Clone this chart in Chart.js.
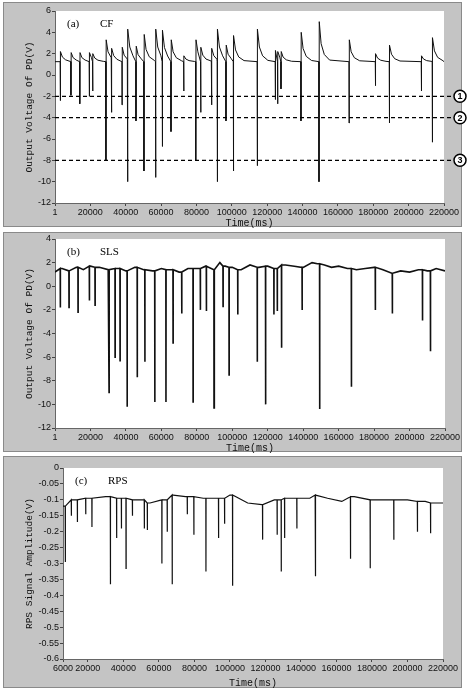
<!DOCTYPE html>
<html><head><meta charset="utf-8">
<script src="https://cdn.jsdelivr.net/npm/chart.js@4/dist/chart.umd.min.js"></script>
<style>
body{margin:0;background:#fff;width:474px;height:689px;overflow:hidden;position:relative}
.p{position:absolute;left:0;width:474px}
</style></head><body>
<div class="p" style="top:0;height:229px"><canvas id="ca"></canvas></div>
<div class="p" style="top:229px;height:225px"><canvas id="cb"></canvas></div>
<div class="p" style="top:454px;height:235px"><canvas id="cc"></canvas></div>
<script>
// ---------- DATA ----------
const xTicksAB = [1,20000,40000,60000,80000,100000,120000,140000,160000,180000,200000,220000];
const xTicksC = [6000,20000,40000,60000,80000,100000,120000,140000,160000,180000,200000,220000];
const thresholdLevels = [-2,-4,-8];
const thresholdLabels = ['1','2','3'];

// Panel (a) CF: event times, minimum, overshoot peak
const cfTimes = [3000,9000,14000,19400,21300,28800,32000,37900,41100,45800,50300,56900,60700,65600,72800,79600,82400,88600,91800,96700,100900,114400,124600,125900,127800,139100,149300,166300,181200,189100,207200,213400];
const cfMins  = [-2.4,-1.9,-2.7,-2.0,-1.5,-8.0,-3.5,-2.8,-10.0,-4.3,-9.0,-9.6,-6.7,-5.3,-1.5,-8.0,-3.5,-2.8,-10.0,-4.3,-9.0,-8.5,-2.3,-2.7,-1.3,-4.3,-10.0,-4.5,-1.0,-4.5,-1.5,-6.3];
const cfPeaks = [2.2,2.1,2.1,2.1,2.0,3.3,2.5,2.6,4.3,2.7,3.8,4.3,4.2,3.3,1.8,3.3,2.6,2.5,4.3,2.8,3.7,4.3,2.3,2.2,2.2,4.0,5.0,3.3,2.0,2.8,1.8,3.5];
const cfBase = 1.25;

// Panel (b) SLS: baseline knots and dips
const slsBaseT = [1,4000,8000,12000,16000,20000,25000,30000,35000,40000,45000,50000,55000,60000,65000,70000,75000,80000,85000,90000,93000,96000,100000,105000,110000,115000,120000,125000,130000,135000,140000,145000,148000,152000,156000,160000,165000,170000,175000,180000,185000,190000,195000,200000,205000,210000,215000,220000];
const slsBaseV = [1.2,1.5,1.3,1.6,1.4,1.7,1.6,1.4,1.5,1.3,1.6,1.4,1.3,1.5,1.4,1.2,1.5,1.5,1.7,1.4,2.0,1.7,1.6,1.4,1.8,1.6,1.7,1.5,1.8,1.7,1.6,2.0,1.9,1.8,1.6,1.7,1.5,1.4,1.5,1.6,1.4,1.1,1.3,1.2,1.4,1.3,1.5,1.3];
const slsTimes = [3000,7900,13000,19400,22600,30500,33900,36700,40700,46400,50700,56300,62600,66600,71500,77900,82000,85400,89700,94800,98200,103100,114100,118800,123500,125400,127800,139400,149300,167200,180700,190300,207300,211800];
const slsMins  = [-1.8,-1.8,-2.2,-1.2,-1.6,-9.0,-6.0,-6.3,-10.2,-7.7,-6.4,-9.8,-9.8,-4.8,-2.3,-9.8,-2.0,-2.1,-10.3,-1.7,-7.5,-2.4,-6.4,-10.0,-2.4,-2.1,-5.2,-2.0,-10.4,-8.5,-2.0,-2.3,-2.9,-5.5];

// Panel (c) RPS: baseline knots and dips
const rpsBaseT = [6000,12000,20000,30000,40000,50000,55000,62000,68000,75000,85000,95000,100000,110000,118000,125000,135000,145000,148000,155000,163000,170000,180000,190000,200000,210000,215000,220000];
const rpsBaseV = [-0.12,-0.1,-0.095,-0.09,-0.095,-0.1,-0.11,-0.1,-0.085,-0.09,-0.095,-0.095,-0.085,-0.11,-0.115,-0.1,-0.095,-0.095,-0.085,-0.095,-0.105,-0.09,-0.1,-0.1,-0.1,-0.105,-0.11,-0.11];
const rpsTimes = [7300,10700,14100,18800,22300,32700,36200,38900,41500,45100,51800,53500,61700,64700,67500,76000,79700,86500,93600,97000,101500,118400,126600,128900,130800,137700,148200,167900,179000,192300,205600,213000];
const rpsMins  = [-0.295,-0.15,-0.17,-0.145,-0.185,-0.365,-0.22,-0.19,-0.315,-0.15,-0.19,-0.195,-0.3,-0.2,-0.365,-0.145,-0.21,-0.325,-0.22,-0.175,-0.37,-0.225,-0.21,-0.325,-0.22,-0.19,-0.34,-0.285,-0.315,-0.225,-0.2,-0.205];

// ---------- BUILD SERIES ----------
function cfSeries(){
  const pts=[[1,cfBase]];
  for(let i=0;i<cfTimes.length;i++){
    const t=cfTimes[i], nx=i+1<cfTimes.length?cfTimes[i+1]:220001, d=cfPeaks[i]-cfBase;
    pts.push([t-80,cfBase],[t,cfMins[i]],[t+150,cfPeaks[i]]);
    [[1200,0.45],[3000,0.18],[6000,0.04]].forEach(([dt,f])=>{ if(t+dt<nx-100) pts.push([t+dt,cfBase+d*f]); });
  }
  pts.push([220000,cfBase]);
  return pts.map(p=>({x:p[0],y:p[1]}));
}
function nearest(ts,vs,t){let b=0;for(let i=0;i<ts.length;i++) if(Math.abs(ts[i]-t)<Math.abs(ts[b]-t)) b=i; return vs[b];}
function dipSeries(bt,bv,times,mins,w){
  const pts=bt.map((t,i)=>[t,bv[i]]);
  times.forEach((t,i)=>{const b=nearest(bt,bv,t); pts.push([t-w,b],[t,mins[i]],[t+w,b]);});
  pts.sort((a,b)=>a[0]-b[0]);
  return pts.map(p=>({x:p[0],y:p[1]}));
}

// ---------- CHART ----------
const tickFont={family:'Liberation Sans',size:9};
function panelBg(y0,y1){
  return {id:'bg',beforeDraw(c){const g=c.ctx,a=c.chartArea;g.save();
    g.fillStyle='#c4c4c4';g.fillRect(3,y0,459,y1-y0);
    g.strokeStyle='#8a8a8a';g.lineWidth=1;g.strokeRect(3.5,y0+0.5,458,y1-y0-1);
    g.fillStyle='#fff';g.fillRect(a.left,a.top,a.right-a.left,a.bottom-a.top);
    g.restore();}};
}
function label(txt1,txt2){
  return {id:'lbl',afterDraw(c){const g=c.ctx,a=c.chartArea;g.save();g.fillStyle='#000';
    g.font='11px "Liberation Serif"';g.textBaseline='middle';
    g.fillText(txt1,a.left+12,a.top+13);g.fillText(txt2,a.left+45,a.top+13);g.restore();}};
}
function make(id,data,opt){
  return new Chart(document.getElementById(id),{
    type:'line',
    data:{datasets:[{data,borderColor:'#111',borderWidth:opt.bw,pointRadius:0,tension:0}]},
    options:{responsive:true,maintainAspectRatio:false,animation:false,
      layout:{padding:{left:opt.padL,right:474-opt.right,top:opt.top,bottom:0}},
      plugins:{legend:{display:false},tooltip:{enabled:false}},
      scales:{
        x:{type:'linear',min:opt.xmin,max:220000,
          afterBuildTicks(s){s.ticks=opt.xt.map(v=>({value:v}));},
          afterFit(s){s.height=opt.xh;},
          grid:{drawOnChartArea:false,tickLength:3,color:'#444'},border:{color:'#666'},
          ticks:{font:tickFont,color:'#111',maxRotation:0,autoSkip:false,padding:1,callback:v=>String(v)},
          title:{display:true,text:'Time(ms)',font:{family:'Liberation Mono',size:10},color:'#111',padding:{top:1,bottom:0}}},
        y:{min:opt.ymin,max:opt.ymax,
          afterBuildTicks(s){s.ticks=opt.yt.map(v=>({value:v}));},
          afterFit(s){s.width=opt.left-opt.padL;},
          grid:{drawOnChartArea:false,tickLength:3,color:'#444'},border:{color:'#666'},
          ticks:{font:tickFont,color:'#111',autoSkip:false,padding:1,callback:opt.yfmt},
          title:{display:true,text:opt.ytitle,font:{family:'Liberation Mono',size:9.5},color:'#111',padding:{top:0,bottom:0}}}
      }},
    plugins:opt.plugins
  });
}
const thresholds={id:'thr',afterDraw(c){const g=c.ctx,y=c.scales.y,a=c.chartArea;g.save();
  g.strokeStyle='#000';g.lineWidth=1.3;g.setLineDash([4,3]);
  thresholdLevels.forEach((v,i)=>{const py=y.getPixelForValue(v);
    g.beginPath();g.moveTo(a.left,py);g.lineTo(453,py);g.stroke();});
  g.setLineDash([]);
  thresholdLevels.forEach((v,i)=>{const py=y.getPixelForValue(v);
    g.fillStyle='#fff';g.beginPath();g.arc(460,py,6,0,Math.PI*2);g.fill();g.lineWidth=1.5;g.stroke();
    g.fillStyle='#000';g.font='bold 9px "Liberation Sans"';g.textAlign='center';g.textBaseline='middle';
    g.fillText(thresholdLabels[i],460,py+0.5);});
  g.restore();}};

make('ca',cfSeries(),{bw:1,padL:24,left:55,right:444,top:11,xh:26,xmin:1,xt:xTicksAB,ymin:-12,ymax:6,
  yt:[6,4,2,0,-2,-4,-6,-8,-10,-12],yfmt:v=>String(v),ytitle:'Output Voltage Of PD(V)',
  plugins:[panelBg(2,227),label('(a)','CF'),thresholds]});
make('cb',dipSeries(slsBaseT,slsBaseV,slsTimes,slsMins,60),{bw:1.6,padL:24,left:55,right:445,top:10,xh:26,xmin:1,xt:xTicksAB,ymin:-12,ymax:4,
  yt:[4,2,0,-2,-4,-6,-8,-10,-12],yfmt:v=>String(v),ytitle:'Output Voltage Of PD(V)',
  plugins:[panelBg(3,223),label('(b)','SLS')]});
make('cc',dipSeries(rpsBaseT,rpsBaseV,rpsTimes,rpsMins,60),{bw:1.2,padL:24,left:63,right:443,top:14,xh:30,xmin:6000,xt:xTicksC,ymin:-0.6,ymax:0,
  yt:[0,-0.05,-0.1,-0.15,-0.2,-0.25,-0.3,-0.35,-0.4,-0.45,-0.5,-0.55,-0.6],
  yfmt:v=>{const r=Math.round(v*100)/100;return r===0?'0':String(r);},ytitle:'RPS Signal Amplitude(V)',
  plugins:[panelBg(2,234),label('(c)','RPS')]});
</script>
</body></html>
